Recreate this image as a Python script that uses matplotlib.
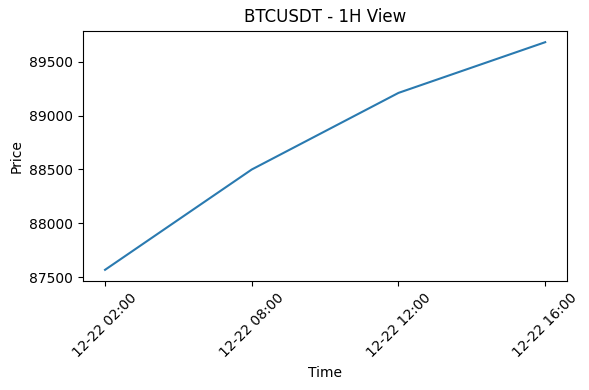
import matplotlib
matplotlib.use('Agg')
import matplotlib.pyplot as plt

# hourly view, timestamps treated as categories
times = ['12-22 02:00', '12-22 08:00', '12-22 12:00', '12-22 16:00']
prices = [87570, 88500, 89210, 89680]

fig, ax = plt.subplots(figsize=(5.89, 3.9), dpi=100)
ax.plot(times, prices, color='#2a7ab0', linewidth=1.5)
ax.set_title('BTCUSDT - 1H View')
ax.set_xlabel('Time')
ax.set_ylabel('Price')
plt.xticks(rotation=45)
fig.subplots_adjust(left=0.141, right=0.963, top=0.921, bottom=0.279)
fig.savefig('out.png', dpi=100)
